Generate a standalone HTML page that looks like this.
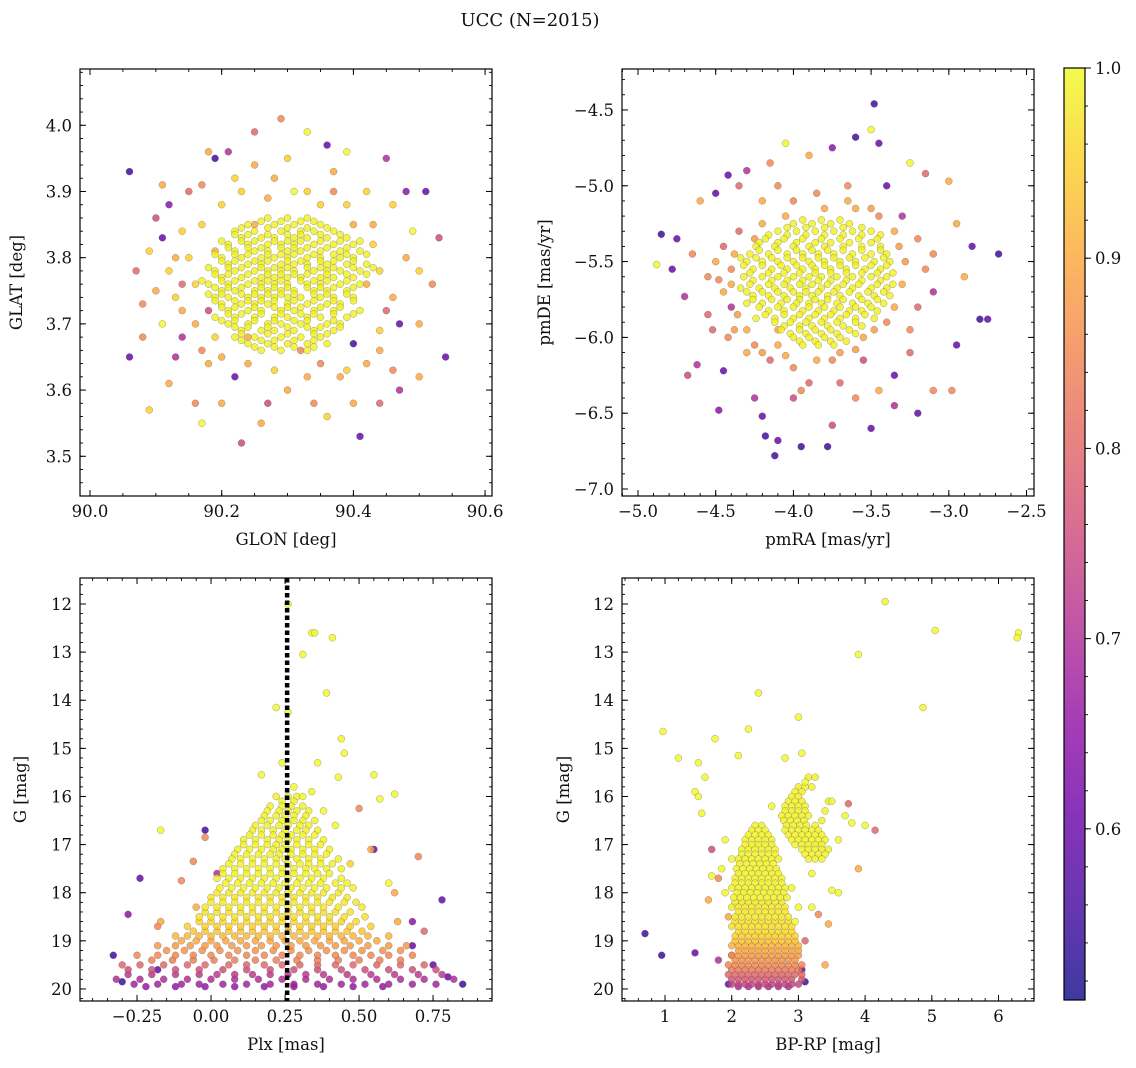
<!DOCTYPE html>
<html><head><meta charset="utf-8"><style>
html,body{margin:0;padding:0;background:#fff;}
svg{display:block;font-family:"DejaVu Serif","Liberation Serif",serif;}
</style></head><body>
<svg id="fig" width="1136" height="1068" viewBox="0 0 1136 1068" xmlns="http://www.w3.org/2000/svg">
<rect width="1136" height="1068" fill="#fff"/>
<text x="530" y="26" font-size="18" text-anchor="middle" fill="#111">UCC (N=2015)</text>
<defs><linearGradient id="cbg" x1="0" y1="1" x2="0" y2="0"></linearGradient></defs>
<g id="plots"></g>
</svg>
<script>
// ---------- DATA ----------
const p1Scatter = [90.06,3.93,0.55, 90.06,3.65,0.6, 90.07,3.78,0.8, 90.08,3.73,0.85, 90.09,3.57,0.95, 90.10,3.86,0.75, 90.11,3.83,0.6, 90.12,3.61,0.9, 90.14,3.68,0.7, 90.16,3.58,0.85, 90.17,3.55,1.0, 90.18,3.96,0.9, 90.19,3.95,0.55, 90.21,3.96,0.7, 90.23,3.52,0.75, 90.25,3.99,0.8, 90.29,4.01,0.85, 90.33,3.99,1.0, 90.36,3.97,0.6, 90.39,3.96,1.0, 90.41,3.53,0.6, 90.45,3.95,0.7, 90.48,3.90,0.65, 90.51,3.90,0.6, 90.53,3.83,0.75, 90.54,3.65,0.6, 90.52,3.76,0.85, 90.50,3.62,0.9, 90.47,3.60,0.7, 90.44,3.58,0.8, 90.36,3.56,0.95, 90.30,3.60,0.9, 90.27,3.58,0.75, 90.15,3.90,0.8, 90.13,3.80,0.9, 90.11,3.70,1.0, 90.12,3.88,0.65, 90.22,3.62,0.6, 90.20,3.65,0.9, 90.40,3.67,0.55, 90.45,3.72,0.8, 90.48,3.80,0.9, 90.47,3.70,0.6, 90.42,3.90,0.95, 90.37,3.93,0.9, 90.22,3.92,0.95, 90.18,3.72,0.75, 90.16,3.76,0.95, 90.43,3.82,0.95, 90.49,3.84,1.0, 90.10,3.75,0.9, 90.25,3.85,0.9, 90.40,3.85,0.9, 90.35,3.64,0.85, 90.24,3.68,0.9, 90.14,3.84,0.95, 90.17,3.66,0.85, 90.44,3.66,0.9, 90.46,3.88,0.95, 90.33,3.90,0.95, 90.28,3.92,0.9, 90.19,3.81,0.9, 90.42,3.76,0.9, 90.09,3.81,0.95, 90.13,3.74,0.95, 90.38,3.62,0.9,
90.12,3.78,0.95, 90.14,3.72,0.9, 90.15,3.80,0.95, 90.16,3.70,0.9, 90.17,3.85,0.95, 90.18,3.64,0.9, 90.20,3.88,0.95, 90.23,3.90,0.95, 90.27,3.89,0.9, 90.31,3.90,1, 90.35,3.88,0.95, 90.39,3.88,0.95, 90.43,3.85,0.9, 90.44,3.78,0.95, 90.46,3.74,0.9, 90.44,3.69,0.95, 90.42,3.64,0.9, 90.39,3.63,0.95, 90.33,3.62,0.9, 90.28,3.63,0.95, 90.24,3.64,0.9, 90.19,3.68,0.95, 90.14,3.76,0.8, 90.13,3.65,0.7, 90.32,3.66,0.85, 90.17,3.91,0.85, 90.25,3.94,0.9, 90.30,3.95,0.95, 90.37,3.90,0.85, 90.46,3.63,0.85, 90.50,3.70,0.9, 90.50,3.78,0.95, 90.08,3.68,0.85, 90.11,3.91,0.9, 90.20,3.58,0.9, 90.26,3.55,0.9, 90.34,3.58,0.85, 90.40,3.58,0.9];
const p1Core = [
[3.86,0.99,[90.27,90.30,90.33]],
[3.855,0.99,[90.26,90.29,90.32,90.34]],
[3.85,0.99,[90.24,90.28,90.31,90.35]],
[3.845,0.99,[90.23,90.27,90.30,90.33,90.36]],
[3.84,0.99,[90.22,90.25,90.29,90.32,90.34,90.37]],
[3.835,0.99,[90.22,90.24,90.27,90.30,90.32,90.35,90.38]],
[3.83,0.99,[90.23,90.26,90.28,90.31,90.33,90.36,90.39]],
[3.825,0.99,[90.20,90.23,90.25,90.28,90.30,90.32,90.35,90.38,90.41]],
[3.82,0.99,[90.21,90.24,90.27,90.29,90.31,90.34,90.37,90.40]],
[3.815,0.99,[90.21,90.24,90.26,90.29,90.31,90.33,90.36,90.39]],
[3.81,0.99,[90.22,90.25,90.27,90.30,90.32,90.35,90.38,90.41]],
[3.805,0.99,[90.19,90.22,90.24,90.27,90.29,90.31,90.34,90.37,90.39,90.42]],
[3.80,0.99,[90.20,90.23,90.26,90.28,90.30,90.33,90.35,90.38,90.40]],
[3.795,0.99,[90.20,90.22,90.25,90.27,90.30,90.32,90.35,90.37,90.40]],
[3.79,0.99,[90.21,90.24,90.26,90.29,90.31,90.33,90.36,90.39,90.42]],
[3.785,0.99,[90.18,90.21,90.23,90.26,90.28,90.30,90.33,90.35,90.37,90.40,90.43]],
[3.78,0.99,[90.19,90.22,90.25,90.27,90.29,90.31,90.34,90.36,90.38,90.41]],
[3.775,0.99,[90.19,90.21,90.24,90.27,90.29,90.31,90.33,90.36,90.39,90.42]],
[3.77,0.99,[90.20,90.23,90.26,90.28,90.30,90.32,90.35,90.37,90.40]],
[3.765,0.99,[90.17,90.20,90.22,90.25,90.27,90.29,90.32,90.34,90.36,90.39]],
[3.76,0.99,[90.18,90.21,90.24,90.26,90.28,90.30,90.33,90.35,90.38,90.41]],
[3.755,0.99,[90.19,90.21,90.23,90.26,90.28,90.30,90.33,90.35,90.37,90.40]],
[3.75,0.99,[90.20,90.22,90.25,90.27,90.29,90.31,90.34,90.36,90.39]],
[3.745,0.99,[90.18,90.20,90.23,90.25,90.27,90.29,90.31,90.34,90.36,90.39]],
[3.74,0.99,[90.19,90.21,90.24,90.26,90.28,90.30,90.32,90.35,90.37,90.40]],
[3.735,0.99,[90.19,90.22,90.24,90.26,90.28,90.31,90.34,90.37,90.40]],
[3.73,0.99,[90.20,90.23,90.25,90.27,90.30,90.33,90.36,90.38]],
[3.725,0.99,[90.20,90.22,90.25,90.28,90.30,90.32,90.35,90.38]],
[3.72,0.99,[90.21,90.24,90.26,90.29,90.31,90.34,90.37,90.41]],
[3.715,0.99,[90.21,90.23,90.26,90.29,90.32,90.34,90.37,90.40]],
[3.71,0.99,[90.19,90.22,90.25,90.28,90.30,90.33,90.35,90.39]],
[3.705,0.99,[90.20,90.22,90.25,90.28,90.31,90.33,90.37]],
[3.70,0.99,[90.21,90.24,90.27,90.29,90.32,90.36,90.38]],
[3.695,0.99,[90.22,90.24,90.27,90.30,90.33,90.35,90.38]],
[3.69,0.99,[90.23,90.26,90.28,90.31,90.34,90.37]],
[3.685,0.99,[90.23,90.27,90.30,90.34,90.36]],
[3.68,0.99,[90.22,90.25,90.29,90.32,90.35]],
[3.675,0.99,[90.23,90.26,90.28,90.31,90.34]],
[3.67,0.99,[90.24,90.27,90.30,90.33,90.36]],
[3.665,0.99,[90.25,90.28,90.31,90.34]],
[3.66,0.99,[90.26,90.29,90.33]]];
const p1XTicks = [90.0,90.2,90.4,90.6];
const p1YTicks = [3.5,3.6,3.7,3.8,3.9,4.0];

const p2Scatter = [-4.88,-5.52,1.0, -4.85,-5.32,0.55, -4.75,-5.35,0.6, -4.78,-5.55,0.6, -4.70,-5.73,0.7, -4.68,-6.25,0.75, -4.62,-6.18,0.7, -4.52,-5.95,0.8, -4.48,-6.48,0.65, -4.45,-6.22,0.6, -4.42,-4.93,0.6, -4.35,-5.00,0.8, -4.30,-4.90,0.7, -4.25,-6.40,0.7, -4.20,-6.52,0.6, -4.18,-6.65,0.55, -4.12,-6.78,0.55, -4.10,-6.68,0.6, -4.00,-6.40,0.75, -3.95,-6.72,0.55, -3.78,-6.72,0.55, -3.75,-6.58,0.75, -3.60,-6.40,0.85, -3.50,-6.60,0.6, -3.45,-6.35,0.9, -3.35,-6.45,0.7, -3.20,-6.50,0.6, -3.10,-6.35,0.85, -2.98,-6.35,0.85, -2.95,-6.05,0.6, -2.90,-5.60,0.9, -2.80,-5.88,0.55, -2.75,-5.88,0.6, -2.68,-5.45,0.55, -2.85,-5.40,0.6, -2.95,-5.25,0.9, -3.00,-4.97,0.9, -3.15,-4.92,0.8, -3.25,-4.85,1.0, -3.45,-4.72,0.6, -3.50,-4.63,1.0, -3.48,-4.46,0.55, -3.60,-4.68,0.55, -3.75,-4.75,0.65, -3.90,-4.80,0.9, -4.05,-4.72,1.0, -4.15,-4.85,0.85, -4.50,-5.05,0.6, -4.60,-5.10,0.9, -4.65,-5.45,0.85, -4.30,-6.10,0.9, -3.40,-5.00,0.6, -3.30,-5.20,0.7, -3.20,-5.80,0.8, -3.25,-6.10,0.8, -3.35,-6.25,0.6, -4.40,-5.80,0.7, -4.55,-5.60,0.85, -3.15,-5.55,0.85, -3.10,-5.70,0.7, -4.35,-5.30,0.8, -3.55,-6.15,0.75, -4.15,-6.15,0.8, -3.90,-6.30,0.8, -3.65,-5.00,0.85, -4.20,-5.10,0.9, -4.40,-5.55,0.85, -4.45,-5.70,0.9, -4.38,-5.95,0.88, -4.25,-6.05,0.85, -4.05,-6.12,0.9, -3.60,-6.08,0.88, -3.40,-5.90,0.85, -3.30,-5.65,0.9, -3.32,-5.40,0.88, -3.45,-5.20,0.85, -4.20,-5.25,0.9, -4.45,-5.40,0.8, -3.80,-5.15,0.9, -4.00,-5.10,0.85, -3.60,-5.15,0.9, -3.75,-6.15,0.85, -4.10,-5.95,0.9,
-4.50,-5.50,0.9, -4.48,-5.62,0.85, -4.40,-5.65,0.9, -4.36,-5.85,0.88, -4.42,-6.00,0.85, -4.30,-5.95,0.9, -4.20,-6.10,0.88, -4.10,-6.05,0.9, -4.00,-6.20,0.85, -3.85,-6.15,0.9, -3.70,-6.10,0.88, -3.55,-6.00,0.9, -3.48,-5.95,0.88, -3.35,-5.80,0.9, -3.28,-5.50,0.88, -3.35,-5.30,0.9, -3.50,-5.15,0.88, -3.65,-5.10,0.9, -3.85,-5.05,0.85, -4.05,-5.20,0.9, -4.25,-5.35,0.88, -4.38,-5.45,0.9, -3.25,-5.95,0.85, -3.20,-5.35,0.85, -4.55,-5.85,0.8, -3.95,-6.35,0.85, -3.70,-6.30,0.8, -3.10,-5.45,0.85, -4.10,-5.00,0.85];
const p2Core = [
[-5.225,0.99,[-3.94,-3.82,-3.70]],
[-5.25,0.99,[-4.00,-3.88,-3.76,-3.64]],
[-5.275,0.99,[-4.04,-3.92,-3.80,-3.68,-3.56]],
[-5.30,0.99,[-4.10,-3.98,-3.86,-3.74,-3.62,-3.50]],
[-5.325,0.99,[-4.16,-4.04,-3.92,-3.80,-3.68,-3.56,-3.44]],
[-5.35,0.99,[-4.18,-4.06,-3.94,-3.82,-3.70,-3.58,-3.46]],
[-5.375,0.99,[-4.22,-4.10,-3.98,-3.86,-3.76,-3.64,-3.50]],
[-5.40,0.99,[-4.24,-4.12,-4.00,-3.90,-3.80,-3.68,-3.56,-3.44]],
[-5.425,0.99,[-4.22,-4.10,-3.98,-3.88,-3.78,-3.68,-3.56,-3.44]],
[-5.45,0.99,[-4.28,-4.16,-4.04,-3.94,-3.84,-3.74,-3.62,-3.50,-3.40]],
[-5.475,0.99,[-4.34,-4.24,-4.14,-4.04,-3.94,-3.84,-3.74,-3.64,-3.54,-3.42]],
[-5.50,0.99,[-4.30,-4.20,-4.10,-4.00,-3.90,-3.80,-3.70,-3.60,-3.48,-3.38]],
[-5.525,0.99,[-4.32,-4.20,-4.08,-3.98,-3.88,-3.80,-3.70,-3.60,-3.50,-3.40]],
[-5.55,0.99,[-4.26,-4.14,-4.04,-3.94,-3.86,-3.76,-3.66,-3.54,-3.44]],
[-5.575,0.99,[-4.28,-4.16,-4.06,-3.96,-3.86,-3.76,-3.66,-3.56,-3.46,-3.36]],
[-5.60,0.99,[-4.32,-4.20,-4.10,-4.00,-3.90,-3.82,-3.72,-3.62,-3.50,-3.40]],
[-5.625,0.99,[-4.26,-4.14,-4.04,-3.94,-3.84,-3.76,-3.66,-3.56,-3.44]],
[-5.65,0.99,[-4.28,-4.16,-4.06,-3.96,-3.88,-3.78,-3.68,-3.58,-3.46,-3.36]],
[-5.675,0.99,[-4.34,-4.22,-4.12,-4.02,-3.92,-3.82,-3.72,-3.62,-3.50,-3.40]],
[-5.70,0.99,[-4.30,-4.20,-4.10,-4.00,-3.92,-3.84,-3.74,-3.64,-3.52,-3.42]],
[-5.725,0.99,[-4.26,-4.16,-4.06,-3.96,-3.88,-3.78,-3.70,-3.58,-3.48,-3.38]],
[-5.75,0.99,[-4.26,-4.14,-4.04,-3.96,-3.86,-3.78,-3.68,-3.56,-3.46]],
[-5.775,0.99,[-4.30,-4.20,-4.08,-3.98,-3.90,-3.82,-3.72,-3.62,-3.52,-3.42]],
[-5.80,0.99,[-4.22,-4.10,-4.00,-3.90,-3.80,-3.70,-3.60,-3.50]],
[-5.825,0.99,[-4.16,-4.06,-3.94,-3.84,-3.74,-3.64,-3.56,-3.46]],
[-5.85,0.99,[-4.18,-4.06,-3.96,-3.86,-3.76,-3.66,-3.54]],
[-5.875,0.99,[-4.24,-4.12,-4.00,-3.90,-3.80,-3.70,-3.60,-3.48]],
[-5.90,0.99,[-4.12,-4.02,-3.92,-3.82,-3.72,-3.60]],
[-5.925,0.99,[-4.06,-3.96,-3.88,-3.78,-3.68,-3.56]],
[-5.95,0.99,[-4.08,-3.96,-3.86,-3.76,-3.64]],
[-5.975,0.99,[-4.02,-3.92,-3.82,-3.72,-3.60]],
[-6.00,0.99,[-4.00,-3.90,-3.80,-3.70]],
[-6.025,0.99,[-3.96,-3.86,-3.76,-3.66]],
[-6.05,0.99,[-3.94,-3.84,-3.74]]];
const p2XTicks = [-5.0,-4.5,-4.0,-3.5,-3.0,-2.5];
const p2YTicks = [-7.0,-6.5,-6.0,-5.5,-5.0,-4.5];

const p3Scatter = [0.26,12.0,1, 0.34,12.6,1, 0.35,12.6,1, 0.41,12.7,1, 0.31,13.05,1, 0.39,13.85,1, 0.22,14.15,1, 0.26,14.25,1, 0.44,14.8,1, 0.45,15.1,1, 0.24,15.3,1, 0.36,15.3,1, 0.17,15.55,1, 0.43,15.6,1, 0.55,15.55,1, 0.62,15.95,1, 0.57,16.05,1, 0.50,16.25,0.85, 0.38,16.3,1, 0.42,16.6,1, -0.17,16.7,1, -0.02,16.7,0.55, -0.02,16.85,0.85, 0.55,17.1,0.6, 0.54,17.1,0.9, 0.70,17.25,0.85, -0.06,17.35,0.85, -0.24,17.7,0.6, 0.47,17.4,0.95, 0.02,17.6,0.7, 0.60,17.8,1, -0.10,17.75,0.85, 0.62,18.0,0.9, -0.05,18.3,0.9, -0.17,18.6,0.9, -0.18,18.7,0.85, 0.68,18.6,0.65, -0.28,18.45,0.65, 0.78,18.15,0.6, 0.63,18.6,0.9, 0.72,18.8,0.8, -0.33,19.3,0.55, 0.85,19.9,0.55, 0.80,19.75,0.6, -0.30,19.85,0.55, 0.75,19.5,0.6, -0.18,19.6,0.6, 0.68,19.1,0.6, 0.28,15.8,1, 0.31,16.0,1, 0.34,15.9,1];
const p3Core = [
[16.0,0.99,[0.22,0.26,0.29]],
[16.1,0.99,[0.24,0.28]],
[16.2,0.99,[0.20,0.24,0.27,0.31]],
[16.3,0.99,[0.19,0.23,0.26,0.29,0.33]],
[16.4,0.99,[0.18,0.22,0.25,0.28,0.32]],
[16.5,0.99,[0.17,0.20,0.24,0.28,0.31,0.35]],
[16.6,0.99,[0.15,0.19,0.23,0.26,0.30,0.33]],
[16.7,0.99,[0.14,0.17,0.21,0.25,0.29,0.32,0.36]],
[16.8,0.99,[0.13,0.17,0.21,0.24,0.27,0.31,0.35]],
[16.9,0.99,[0.11,0.15,0.19,0.23,0.26,0.29,0.33,0.38]],
[17.0,0.99,[0.11,0.15,0.19,0.22,0.25,0.29,0.33,0.37]],
[17.1,0.99,[0.09,0.13,0.17,0.21,0.24,0.27,0.31,0.35,0.40]],
[17.2,0.99,[0.08,0.12,0.16,0.20,0.23,0.27,0.31,0.35,0.39]],
[17.3,0.99,[0.07,0.10,0.14,0.18,0.22,0.25,0.29,0.33,0.37,0.43]],
[17.4,0.99,[0.06,0.10,0.14,0.18,0.22,0.26,0.30,0.33,0.37,0.41]],
[17.5,0.99,[0.04,0.08,0.12,0.16,0.20,0.24,0.28,0.32,0.35,0.39,0.44]],
[17.6,0.99,[0.04,0.08,0.12,0.16,0.20,0.24,0.28,0.32,0.36,0.40]],
[17.7,0.99,[0.02,0.06,0.10,0.14,0.18,0.22,0.26,0.30,0.34,0.38,0.44]],
[17.8,0.99,[0.05,0.09,0.13,0.17,0.21,0.25,0.29,0.33,0.37,0.42,0.46]],
[17.9,0.99,[0.03,0.07,0.11,0.15,0.19,0.23,0.27,0.31,0.35,0.39,0.44,0.48]],
[18.0,0.98,[0.02,0.06,0.10,0.14,0.18,0.22,0.26,0.30,0.34,0.38,0.43]],
[18.1,0.98,[0.00,0.04,0.08,0.12,0.16,0.20,0.24,0.28,0.32,0.36,0.41,0.46]],
[18.2,0.98,[0.00,0.04,0.08,0.12,0.16,0.20,0.24,0.28,0.32,0.36,0.40,0.45,0.49]],
[18.3,0.98,[-0.02,0.02,0.06,0.10,0.14,0.18,0.22,0.26,0.30,0.34,0.38,0.43,0.51]],
[18.4,0.97,[-0.02,0.02,0.06,0.10,0.14,0.18,0.22,0.26,0.30,0.34,0.38,0.42,0.47]],
[18.5,0.97,[-0.04,0.00,0.04,0.08,0.12,0.16,0.20,0.24,0.28,0.32,0.36,0.40,0.45,0.52]],
[18.6,0.96,[-0.04,0.00,0.04,0.08,0.12,0.16,0.20,0.24,0.28,0.32,0.36,0.40,0.44,0.49]],
[18.7,0.95,[-0.08,-0.02,0.02,0.06,0.10,0.14,0.18,0.22,0.26,0.30,0.34,0.38,0.42,0.47,0.54]],
[18.8,0.94,[-0.06,-0.02,0.02,0.06,0.10,0.14,0.18,0.22,0.26,0.30,0.34,0.38,0.42,0.46,0.51]],
[18.9,0.92,[-0.12,-0.08,-0.04,0.00,0.04,0.08,0.12,0.16,0.20,0.24,0.28,0.32,0.36,0.40,0.44,0.48,0.53,0.60]],
[19.0,0.9,[-0.10,-0.05,0.00,0.05,0.10,0.15,0.20,0.25,0.30,0.35,0.40,0.45,0.50,0.56]],
[19.1,0.88,[-0.18,-0.12,-0.07,-0.02,0.02,0.07,0.12,0.17,0.22,0.27,0.32,0.37,0.42,0.47,0.53,0.60,0.66]],
[19.2,0.87,[-0.15,-0.09,-0.03,0.03,0.09,0.15,0.21,0.27,0.33,0.39,0.45,0.51,0.58,0.64]],
[19.3,0.85,[-0.25,-0.18,-0.12,-0.06,0.00,0.06,0.12,0.18,0.24,0.30,0.36,0.42,0.48,0.54,0.60,0.68]],
[19.4,0.84,[-0.20,-0.13,-0.06,0.01,0.08,0.15,0.22,0.29,0.36,0.43,0.50,0.57,0.64]],
[19.5,0.8,[-0.30,-0.24,-0.16,-0.08,-0.02,0.06,0.12,0.18,0.24,0.30,0.36,0.42,0.48,0.56,0.64,0.72]],
[19.6,0.76,[-0.28,-0.20,-0.12,-0.04,0.04,0.12,0.20,0.28,0.36,0.44,0.52,0.60,0.68,0.76]],
[19.7,0.72,[-0.28,-0.20,-0.12,-0.04,0.02,0.08,0.14,0.20,0.26,0.32,0.38,0.46,0.54,0.62,0.70,0.78]],
[19.8,0.70,[-0.32,-0.24,-0.16,-0.08,0.00,0.08,0.16,0.24,0.32,0.40,0.48,0.56,0.64,0.72,0.82]],
[19.9,0.68,[-0.26,-0.18,-0.10,-0.04,0.04,0.12,0.20,0.28,0.36,0.44,0.52,0.60,0.68,0.76]],
[19.95,0.66,[-0.22,-0.12,-0.02,0.08,0.18,0.28,0.38,0.48,0.58]]];
const p3XTicks = [-0.25,0.00,0.25,0.50,0.75];
const p3XLabels = ["\u22120.25","0.00","0.25","0.50","0.75"];
const gTicks = [12,13,14,15,16,17,18,19,20];
const plxLine = 0.257;

const p4Scatter = [4.3,11.95,1, 5.05,12.55,1, 6.3,12.6,1, 6.28,12.7,1, 3.9,13.05,1, 2.4,13.85,1, 3.0,14.35,1, 4.87,14.15,1, 2.25,14.6,1, 0.97,14.65,1, 1.2,15.2,1, 1.5,15.3,1, 2.8,15.2,1, 1.6,15.6,1, 1.75,14.8,1, 2.1,15.15,1, 3.05,15.1,1, 3.1,15.7,1, 1.45,15.9,1, 1.5,16.0,1, 1.55,16.35,1, 4.0,16.6,1, 4.15,16.7,0.8, 3.75,16.15,0.8, 3.8,16.55,1, 1.7,17.1,0.75, 1.7,17.65,1, 1.8,17.7,0.85, 1.9,18.0,1, 1.65,18.15,0.9, 0.95,19.3,0.55, 0.7,18.85,0.55, 1.45,19.25,0.6, 1.8,19.4,0.7, 3.3,18.45,0.85, 3.2,18.3,1, 3.6,18.0,1, 3.5,17.95,1, 3.45,18.65,0.9, 3.4,19.5,0.9, 3.9,17.5,0.9, 1.9,16.9,1, 2.0,17.3,1, 1.85,17.5,1, 2.9,17.9,1, 3.0,18.3,1, 2.95,18.6,1, 3.2,17.6,1, 3.6,16.9,1, 3.7,16.4,1, 2.6,16.2,1, 3.5,16.1,1, 1.95,18.5,0.9, 3.1,19.0,0.8, 1.95,19.9,0.6, 3.1,19.85,0.55, 3.05,19.6,0.6, 2.0,19.3,0.7];
const p4Core = [
[15.6,0.99,[3.15,3.25]],
[15.8,0.99,[3.00,3.10,3.20]],
[15.9,0.99,[2.95,3.05]],
[16.0,0.99,[2.90,3.00]],
[16.1,0.99,[2.85,2.95,3.05,3.45]],
[16.2,0.99,[2.80,2.90,3.00,3.10]],
[16.3,0.99,[2.80,2.90,3.00,3.10,3.40]],
[16.4,0.99,[2.75,2.85,2.95,3.05,3.15]],
[16.5,0.99,[2.78,2.88,2.98,3.08,3.35]],
[16.6,0.99,[2.82,2.92,3.02,3.12,3.25]],
[16.7,0.99,[2.80,2.90,3.00,3.10,3.20,3.30]],
[16.8,0.99,[2.85,2.95,3.05,3.15,3.25,3.35]],
[16.9,0.99,[2.90,3.00,3.10,3.20,3.30,3.40]],
[17.0,0.99,[2.95,3.05,3.15,3.25,3.35]],
[17.1,0.99,[3.05,3.15,3.25,3.35,3.45]],
[17.2,0.99,[3.10,3.20,3.30,3.40]],
[17.3,0.99,[3.15,3.25,3.35]],
[16.6,0.99,[2.35,2.45]],
[16.7,0.99,[2.30,2.40,2.50]],
[16.8,0.99,[2.25,2.35,2.45,2.55]],
[16.9,0.99,[2.20,2.30,2.40,2.50,2.60]],
[17.0,0.99,[2.20,2.30,2.40,2.50,2.60]],
[17.1,0.99,[2.15,2.25,2.35,2.45,2.55,2.65]],
[17.2,0.99,[2.15,2.25,2.35,2.45,2.55,2.65]],
[17.3,0.99,[2.10,2.20,2.30,2.40,2.50,2.60,2.70]],
[17.4,0.99,[2.12,2.22,2.32,2.42,2.52,2.62]],
[17.5,0.99,[2.07,2.17,2.27,2.37,2.47,2.57,2.67]],
[17.6,0.99,[2.10,2.20,2.30,2.40,2.50,2.60,2.70]],
[17.7,0.99,[2.05,2.15,2.25,2.35,2.45,2.55,2.65,2.75]],
[17.8,0.99,[2.05,2.15,2.25,2.35,2.45,2.55,2.65,2.75]],
[17.9,0.99,[2.00,2.10,2.20,2.30,2.40,2.50,2.60,2.70,2.80]],
[18.0,0.99,[2.08,2.18,2.28,2.38,2.48,2.58,2.68,2.78]],
[18.1,0.99,[2.03,2.13,2.23,2.33,2.43,2.53,2.63,2.73,2.83]],
[18.2,0.98,[2.05,2.15,2.25,2.35,2.45,2.55,2.65,2.75]],
[18.3,0.98,[2.00,2.10,2.20,2.30,2.40,2.50,2.60,2.70,2.80]],
[18.4,0.98,[2.10,2.20,2.30,2.40,2.50,2.60,2.70,2.80]],
[18.5,0.98,[2.05,2.15,2.25,2.35,2.45,2.55,2.65,2.75,2.85]],
[18.6,0.97,[2.05,2.15,2.25,2.35,2.45,2.55,2.65,2.75,2.85]],
[18.7,0.97,[2.00,2.10,2.20,2.30,2.40,2.50,2.60,2.70,2.80,2.90]],
[18.8,0.96,[2.10,2.20,2.30,2.40,2.50,2.60,2.70,2.80,2.90]],
[18.9,0.95,[2.05,2.15,2.25,2.35,2.45,2.55,2.65,2.75,2.85,2.95]],
[19.0,0.93,[2.05,2.15,2.25,2.35,2.45,2.55,2.65,2.75,2.85,2.95]],
[19.1,0.91,[2.00,2.10,2.20,2.30,2.40,2.50,2.60,2.70,2.80,2.90,3.00]],
[19.2,0.9,[2.10,2.20,2.30,2.40,2.50,2.60,2.70,2.80,2.90,3.00]],
[19.3,0.88,[2.00,2.10,2.20,2.30,2.40,2.50,2.60,2.70,2.80,2.90,3.00]],
[19.4,0.87,[2.05,2.15,2.25,2.35,2.45,2.55,2.65,2.75,2.85,2.95]],
[19.5,0.85,[1.95,2.05,2.15,2.25,2.35,2.45,2.55,2.65,2.75,2.85,2.95,3.05]],
[19.6,0.83,[2.00,2.10,2.20,2.30,2.40,2.50,2.60,2.70,2.80,2.90,3.00]],
[19.7,0.8,[1.95,2.05,2.15,2.25,2.35,2.45,2.55,2.65,2.75,2.85,2.95,3.05]],
[19.8,0.77,[2.00,2.10,2.20,2.30,2.40,2.50,2.60,2.70,2.80,2.90,3.05]],
[19.9,0.74,[2.00,2.10,2.20,2.30,2.40,2.50,2.60,2.70,2.80,2.90,3.00]],
[19.95,0.7,[2.10,2.25,2.40,2.55,2.70,2.85]]];
const p4XTicks = [1,2,3,4,5,6];
const cbTicks = [0.6,0.7,0.8,0.9,1.0];
const cbMin = 0.51, cbMax = 1.0;

// ---------- RENDER ----------
const NS = "http://www.w3.org/2000/svg";
const root = document.getElementById('plots');
function mk(tag, attrs, parent){ const e=document.createElementNS(NS,tag); for(const k in attrs) e.setAttribute(k,attrs[k]); (parent||root).appendChild(e); return e; }
const stops=[[13,8,135],[65,4,157],[106,0,168],[143,13,164],[177,42,144],[204,71,120],[225,100,98],[242,132,75],[252,166,54],[252,206,37],[240,249,33]];
function plasma(t){ t=Math.max(0,Math.min(1,t)); const f=t*10, i=Math.min(9,Math.floor(f)), r=f-i; const a=stops[i], b=stops[i+1]; return `rgb(${Math.round(a[0]+(b[0]-a[0])*r)},${Math.round(a[1]+(b[1]-a[1])*r)},${Math.round(a[2]+(b[2]-a[2])*r)})`; }
function cmap(p){ return plasma((p-cbMin)/(cbMax-cbMin)); }
function fmt(v,d){ const s=v.toFixed(d); return v<0? "\u2212"+s.slice(1): s; }

function panel(o){
  const g=mk('g',{});
  
  
  const sx=v=>o.px0+(v-o.xmin)/(o.xmax-o.xmin)*(o.px1-o.px0);
  const sy=v=>o.py1-(v-o.ymin)/(o.ymax-o.ymin)*(o.py1-o.py0);
  let pts=[];
  for(let i=0;i<o.scatter.length;i+=3) pts.push([o.scatter[i],o.scatter[i+1],o.scatter[i+2]]);
  o.core.forEach(r=>r[2].forEach(x=>pts.push([x,r[0],r[1]])));
  pts.sort((a,b)=>a[2]-b[2]);
  const pg=mk('g',{},g);
  
  
  pts.forEach(p=>{
    const c=mk('circle',{cx:sx(p[0]).toFixed(1),cy:sy(p[1]).toFixed(1),r:3.5,fill:cmap(p[2]),'fill-opacity':0.82,stroke:'#555','stroke-width':0.45,'stroke-opacity':0.6},pg);
    
    
  });
  if(o.vline!==undefined){
    const l=mk('line',{x1:sx(o.vline),x2:sx(o.vline),y1:o.py0,y2:o.py1,stroke:'#000','stroke-width':4.5,'stroke-dasharray':'4.5,3'},g);
    
    
  }
  const fr=mk('rect',{x:o.px0,y:o.py0,width:o.px1-o.px0,height:o.py1-o.py0,fill:'none',stroke:'#000','stroke-width':1.2},g);
  
  
  for(let v=Math.ceil(o.xmin/o.xminor)*o.xminor; v<=o.xmax; v+=o.xminor){ const X=sx(v); mk('line',{x1:X,x2:X,y1:o.py1,y2:o.py1-3,stroke:'#000','stroke-width':0.9},g); mk('line',{x1:X,x2:X,y1:o.py0,y2:o.py0+3,stroke:'#000','stroke-width':0.9},g); }
  const ylo=Math.min(o.ymin,o.ymax), yhi=Math.max(o.ymin,o.ymax);
  for(let v=Math.ceil(ylo/o.yminor)*o.yminor; v<=yhi; v+=o.yminor){ const Y=sy(v); mk('line',{x1:o.px0,x2:o.px0+3,y1:Y,y2:Y,stroke:'#000','stroke-width':0.9},g); mk('line',{x1:o.px1,x2:o.px1-3,y1:Y,y2:Y,stroke:'#000','stroke-width':0.9},g); }
  o.xticks.forEach((v,i)=>{ const X=sx(v);
    mk('line',{x1:X,x2:X,y1:o.py1,y2:o.py1-6,stroke:'#000','stroke-width':1},g); mk('line',{x1:X,x2:X,y1:o.py0,y2:o.py0+6,stroke:'#000','stroke-width':1},g);
    const t=mk('text',{x:X,y:o.py1+21,'font-size':16.5,'text-anchor':'middle',fill:'#111'},g); t.textContent=o.xlabels[i];
    
    
  });
  o.yticks.forEach((v,i)=>{ const Y=sy(v);
    mk('line',{x1:o.px0,x2:o.px0+6,y1:Y,y2:Y,stroke:'#000','stroke-width':1},g); mk('line',{x1:o.px1,x2:o.px1-6,y1:Y,y2:Y,stroke:'#000','stroke-width':1},g);
    const t=mk('text',{x:o.px0-8,y:Y+6,'font-size':16.5,'text-anchor':'end',fill:'#111'},g); t.textContent=o.ylabels[i];
    
    
  });
  const xt=mk('text',{x:(o.px0+o.px1)/2,y:o.py1+49,'font-size':16.5,'text-anchor':'middle',fill:'#111'},g); xt.textContent=o.xtitle;
  
  
  const yx=o.ytx, yy=(o.py0+o.py1)/2;
  const yt=mk('text',{x:yx,y:yy,'font-size':16.5,'text-anchor':'middle',fill:'#111',transform:`rotate(-90 ${yx} ${yy})`},g); yt.textContent=o.ytitle;
  
  
}

panel({name:'glon-glat-panel',px0:80,px1:492,py0:69,py1:496,xmin:89.9848,xmax:90.6105,ymin:3.44,ymax:4.085,
  scatter:p1Scatter,core:p1Core,xticks:p1XTicks,xlabels:p1XTicks.map(v=>v.toFixed(1)),yticks:p1YTicks,ylabels:p1YTicks.map(v=>v.toFixed(1)),
  xminor:0.05,yminor:0.02,xtitle:'GLON [deg]',ytitle:'GLAT [deg]',ytx:22});
panel({name:'pm-panel',px0:622,px1:1034,py0:69,py1:496,xmin:-5.103,xmax:-2.452,ymin:-7.046,ymax:-4.23,
  scatter:p2Scatter,core:p2Core,xticks:p2XTicks,xlabels:p2XTicks.map(v=>fmt(v,1)),yticks:p2YTicks,ylabels:p2YTicks.map(v=>fmt(v,1)),
  xminor:0.1,yminor:0.1,xtitle:'pmRA [mas/yr]',ytitle:'pmDE [mas/yr]',ytx:550});
panel({name:'plx-g-panel',px0:80,px1:492,py0:578,py1:1001,xmin:-0.4426,xmax:0.949,ymin:20.25,ymax:11.46,
  scatter:p3Scatter,core:p3Core,xticks:p3XTicks,xlabels:p3XLabels,yticks:gTicks,ylabels:gTicks.map(String),
  xminor:0.05,yminor:0.2,xtitle:'Plx [mas]',ytitle:'G [mag]',ytx:26,vline:plxLine});
panel({name:'cmd-panel',px0:622,px1:1034,py0:578,py1:1001,xmin:0.355,xmax:6.532,ymin:20.25,ymax:11.46,
  scatter:p4Scatter,core:p4Core,xticks:p4XTicks,xlabels:p4XTicks.map(String),yticks:gTicks,ylabels:gTicks.map(String),
  xminor:0.2,yminor:0.2,xtitle:'BP-RP [mag]',ytitle:'G [mag]',ytx:569});

const grad=document.getElementById('cbg');
for(let i=0;i<=20;i++){ const s=document.createElementNS(NS,'stop'); s.setAttribute('offset',(i/20)); s.setAttribute('stop-color',plasma(i/20)); s.setAttribute('stop-opacity',0.8); grad.appendChild(s); }
const cb=mk('g',{});


const cbx0=1064,cbx1=1085,cby0=68,cby1=1000;
const cy=v=>cby1-(v-cbMin)/(cbMax-cbMin)*(cby1-cby0);
mk('rect',{x:cbx0,y:cby0,width:cbx1-cbx0,height:cby1-cby0,fill:'url(#cbg)',stroke:'#000','stroke-width':1.2},cb);
for(let v=0.52; v<=1.0001; v+=0.02){ const Y=cy(v); mk('line',{x1:cbx1,x2:cbx1+3,y1:Y,y2:Y,stroke:'#000','stroke-width':0.9},cb); }
cbTicks.forEach(v=>{ const Y=cy(v); mk('line',{x1:cbx1,x2:cbx1+6,y1:Y,y2:Y,stroke:'#000','stroke-width':1},cb);
  const t=mk('text',{x:cbx1+10,y:Y+6,'font-size':16.5,fill:'#111'},cb); t.textContent=v.toFixed(1);
  
  
});
</script>
</body></html>
